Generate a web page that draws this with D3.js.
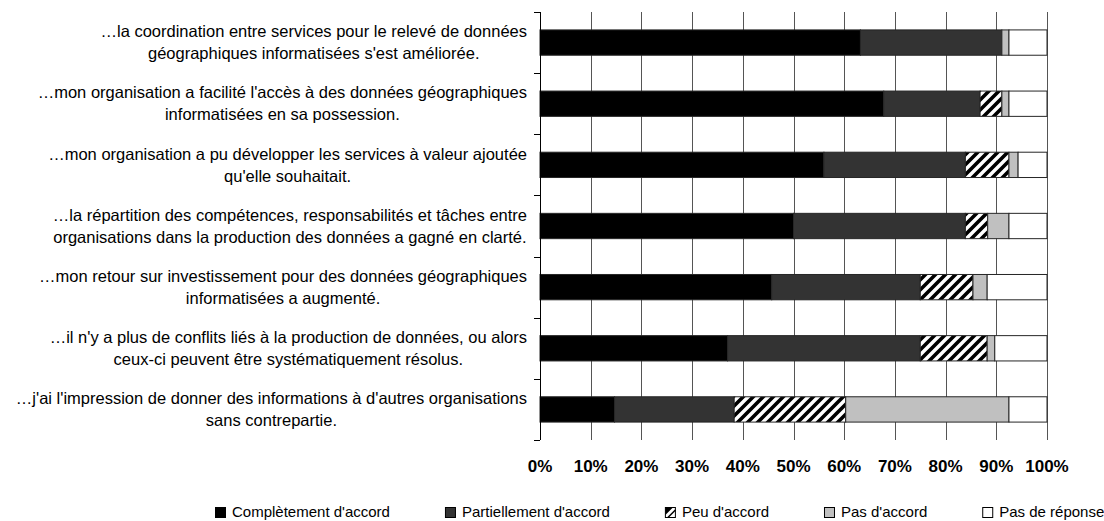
<!DOCTYPE html>
<html>
<head>
<meta charset="utf-8">
<script src="https://cdn.jsdelivr.net/npm/d3@7"></script>
<style>
  body { margin: 0; background: #fff; }
  svg { display: block; font-family: "Liberation Sans", Arial, sans-serif; }
</style>
</head>
<body>
<div id="chart"></div>
<script>
const width = 1104;
const height = 521;

// question labels, already wrapped as in the original
const categories = [
    ["…la coordination entre services pour le relevé de données", "géographiques informatisées s'est améliorée."],
    ["…mon organisation a facilité l'accès à des données géographiques", "informatisées en sa possession."],
    ["…mon organisation a pu développer les services à valeur ajoutée", "qu'elle souhaitait."],
    ["…la répartition des compétences, responsabilités et tâches entre", "organisations dans la production des données a gagné en clarté."],
    ["…mon retour sur investissement pour des données géographiques", "informatisées a augmenté."],
    ["…il n'y a plus de conflits liés à la production de données, ou alors", "ceux-ci peuvent être systématiquement résolus."],
    ["…j'ai l'impression de donner des informations à d'autres organisations", "sans contrepartie."]
];

const seriesNames = ["Complètement d'accord", "Partiellement d'accord", "Peu d'accord", "Pas d'accord", "Pas de réponse"];

// percentages
const completement = [63.2, 67.8, 56.0, 50.0, 45.7, 37.0, 14.7];
const partiellement = [27.9, 19.0, 27.9, 33.9, 29.3, 38.0, 23.6];
const peu = [0, 4.3, 8.6, 4.4, 10.4, 13.2, 22.0];
const pasAccord = [1.4, 1.4, 1.8, 4.2, 2.8, 1.5, 32.2];
const sansReponse = [7.5, 7.5, 5.7, 7.5, 11.8, 10.3, 7.5];

const tickValues = [0, 10, 20, 30, 40, 50, 60, 70, 80, 90, 100];

const fills = ["#000000", "#333333", "url(#hatch)", "#c0c0c0", "#ffffff"];

const rows = categories.map((c, i) => ({
    id: i,
    [seriesNames[0]]: completement[i],
    [seriesNames[1]]: partiellement[i],
    [seriesNames[2]]: peu[i],
    [seriesNames[3]]: pasAccord[i],
    [seriesNames[4]]: sansReponse[i]
}));

const svg = d3.select("#chart")
    .append("svg")
    .attr("width", width)
    .attr("height", height);

svg.append("rect").attr("width", width).attr("height", height).attr("fill", "#fff");

// diagonal hatch
const defs = svg.append("defs");
const pat = defs.append("pattern")
    .attr("id", "hatch")
    .attr("patternUnits", "userSpaceOnUse")
    .attr("width", 10)
    .attr("height", 10);
pat.append("rect").attr("width", 10).attr("height", 10).attr("fill", "#fff");
pat.append("path")
    .attr("d", "M-2.5,2.5 l5,-5 M0,10 l10,-10 M7.5,12.5 l5,-5")
    .attr("stroke", "#000")
    .attr("stroke-width", 3.6);

const plotLeft = 540, plotRight = 1047, plotTop = 12, plotBottom = 440;

const x = d3.scaleLinear().domain([0, 100]).range([plotLeft, plotRight]);
const y = d3.scaleBand()
    .domain(d3.range(categories.length))
    .range([plotTop, plotBottom])
    .paddingInner(0.586)
    .paddingOuter(0.293);

// vertical gridlines
svg.append("g")
    .selectAll("line")
    .data(tickValues.slice(1))
    .join("line")
    .attr("x1", d => Math.round(x(d)) + 0.5)
    .attr("x2", d => Math.round(x(d)) + 0.5)
    .attr("y1", plotTop)
    .attr("y2", plotBottom)
    .attr("stroke", "#555")
    .attr("stroke-width", 1);

// stacked bars
const stack = d3.stack().keys(seriesNames);
const layers = stack(rows);

svg.append("g")
    .selectAll("g")
    .data(layers)
    .join("g")
    .attr("fill", (d, i) => fills[i])
    .selectAll("rect")
    .data(d => d.filter(s => s[1] - s[0] > 0))
    .join("rect")
    .attr("x", d => x(d[0]))
    .attr("y", d => y(d.data.id))
    .attr("width", d => x(d[1]) - x(d[0]))
    .attr("height", y.bandwidth())
    .attr("stroke", "#262626")
    .attr("stroke-width", 1);

// y axis with ticks between categories
const step = y.step();
svg.append("line")
    .attr("x1", plotLeft + 0.5).attr("x2", plotLeft + 0.5)
    .attr("y1", plotTop).attr("y2", plotBottom)
    .attr("stroke", "#000");
svg.append("g")
    .selectAll("line")
    .data(d3.range(categories.length + 1))
    .join("line")
    .attr("x1", plotLeft - 6)
    .attr("x2", plotLeft)
    .attr("y1", i => Math.round(plotTop + i * step) + 0.5)
    .attr("y2", i => Math.round(plotTop + i * step) + 0.5)
    .attr("stroke", "#000");

// category labels: block right aligned, lines centered inside the block
const labelRight = 527;
const labelSize = 16.5;
const lineGap = 22;
const labelG = svg.append("g");
categories.forEach((lines, i) => {
    const g = labelG.append("g");
    const texts = lines.map(l => g.append("text")
        .attr("font-size", labelSize)
        .attr("fill", "#000")
        .attr("text-anchor", "middle")
        .text(l));
    const w = d3.max(texts, t => t.node().getComputedTextLength());
    const cy = y(i) + y.bandwidth() / 2;
    texts.forEach((t, j) => {
        t.attr("x", labelRight - w / 2)
         .attr("y", cy + (j - (lines.length - 1) / 2) * lineGap + labelSize * 0.35);
    });
});

// x tick labels
svg.append("g")
    .selectAll("text")
    .data(tickValues)
    .join("text")
    .attr("x", d => x(d))
    .attr("y", 472)
    .attr("text-anchor", "middle")
    .attr("font-size", 17)
    .attr("font-weight", "bold")
    .text(d => d + "%");

// legend
const legend = svg.append("g");
let lx = 215;
seriesNames.forEach((name, i) => {
    const item = legend.append("g").attr("transform", `translate(${lx},507)`);
    if (i === 2) {
        item.append("rect").attr("x", 0.5).attr("y", 0.5).attr("width", 10).attr("height", 10)
            .attr("fill", "#fff").attr("stroke", "#000");
        item.append("path").attr("d", "M0.5,0.5 H8 L0.5,8 Z").attr("fill", "#000");
        item.append("path").attr("d", "M10.5,3 L3,10.5").attr("stroke", "#000").attr("stroke-width", 1.5);
    } else {
        item.append("rect").attr("x", 0.5).attr("y", 0.5).attr("width", 10).attr("height", 10)
            .attr("fill", fills[i]).attr("stroke", "#000");
    }
    const t = item.append("text")
        .attr("x", 17)
        .attr("y", 10)
        .attr("font-size", 15)
        .text(name);
    lx += 17 + t.node().getComputedTextLength() + 55;
});
</script>
</body>
</html>
